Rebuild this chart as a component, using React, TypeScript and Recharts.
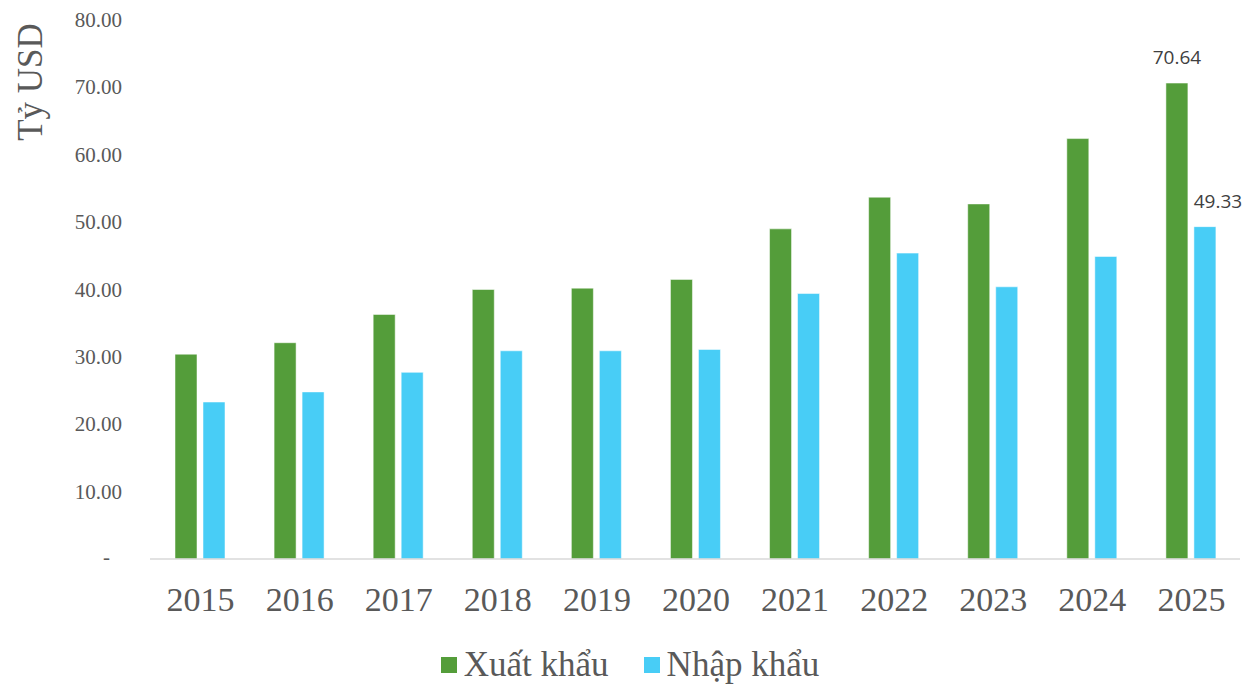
import React from 'react';
import { BarChart, Bar, XAxis, YAxis, Legend, LabelList } from 'recharts';

const years = ['2015', '2016', '2017', '2018', '2019', '2020', '2021', '2022', '2023', '2024', '2025'];
const exportVals = [30.4, 32.1, 36.3, 40.0, 40.2, 41.5, 49.0, 53.7, 52.7, 62.4, 70.64];
const importVals = [23.3, 24.8, 27.7, 30.9, 30.9, 31.1, 39.4, 45.4, 40.4, 44.9, 49.33];
const yTicks = [0, 10, 20, 30, 40, 50, 60, 70, 80];
const seriesNames = ['Xuất khẩu', 'Nhập khẩu'];
const colors = ['#549D3A', '#48CDF6'];

const data = years.map((y, i) => ({ year: y, exp: exportVals[i], imp: importVals[i] }));

const SERIF = '"Liberation Serif", "Times New Roman", serif';
const SANS = '"Open Sans", "Liberation Sans", sans-serif';

const YTick = (props: any) => {
  const { x, y, payload } = props;
  const v = payload.value;
  if (v === 0) {
    return (
      <text x={x - 12} y={y} dy={5} textAnchor="end" fill="#595959" fontSize={21} fontFamily={SERIF}>-</text>
    );
  }
  return (
    <text x={x} y={y} dy={7} textAnchor="end" fill="#595959" fontSize={21} fontFamily={SERIF}>
      {v.toFixed(2)}
    </text>
  );
};

const XTick = (props: any) => {
  const { x, y, payload } = props;
  return (
    <text x={x + 1} y={y} dy={44} textAnchor="middle" fill="#595959" fontSize={34} fontFamily={SERIF}>
      {payload.value}
    </text>
  );
};

const makeLabel = (dx: number) => (props: any) => {
  const { x, y, width, value, index } = props;
  if (index !== years.length - 1) return null;
  return (
    <text x={x + width / 2 + dx} y={y - 19} textAnchor="middle" fill="#404040" fontSize={19} fontFamily={SANS}>
      {Number(value).toFixed(2)}
    </text>
  );
};

const LegendContent = () => (
  <div style={{ display: 'flex', justifyContent: 'center', alignItems: 'center', height: 55, boxSizing: 'border-box', paddingTop: 16, paddingLeft: 20, fontFamily: SERIF, fontSize: 35, color: '#595959' }}>
    {seriesNames.map((n, i) => (
      <div key={n} style={{ display: 'flex', alignItems: 'center', marginRight: i === 0 ? 35 : 0 }}>
        <div style={{ width: 16, height: 16, background: colors[i], marginRight: 7 }} />
        <span>{n}</span>
      </div>
    ))}
  </div>
);

export default function App() {
  return (
    <div style={{ position: 'absolute', left: 0, top: 0, background: '#fff' }}>
      <BarChart
        width={1249}
        height={684}
        data={data}
        margin={{ top: 20, right: 9, left: 0, bottom: 0 }}
        barSize={22}
        barGap={6}
      >
        <XAxis dataKey="year" axisLine={{ stroke: '#D9D9D9', strokeWidth: 1.5 }} tickLine={false} height={70} tick={<XTick />} interval={0} />
        <YAxis
          width={150}
          domain={[0, 80]}
          ticks={yTicks}
          axisLine={false}
          tickLine={false}
          tickSize={0}
          tickMargin={28}
          tick={<YTick />}
          label={{
            content: () => (
              <text x={30} y={82} transform="rotate(-90,30,82)" textAnchor="middle" dominantBaseline="central" fill="#595959" fontSize={35} fontFamily={SERIF}>
                Tỷ USD
              </text>
            ),
          }}
        />
        <Legend verticalAlign="bottom" content={<LegendContent />} />
        <Bar dataKey="exp" name={seriesNames[0]} fill={colors[0]} stroke="#ffffff" strokeOpacity={0.5} isAnimationActive={false}>
          <LabelList dataKey="exp" content={makeLabel(0)} />
        </Bar>
        <Bar dataKey="imp" name={seriesNames[1]} fill={colors[1]} stroke="#ffffff" strokeOpacity={0.5} isAnimationActive={false}>
          <LabelList dataKey="imp" content={makeLabel(13)} />
        </Bar>
      </BarChart>
    </div>
  );
}
